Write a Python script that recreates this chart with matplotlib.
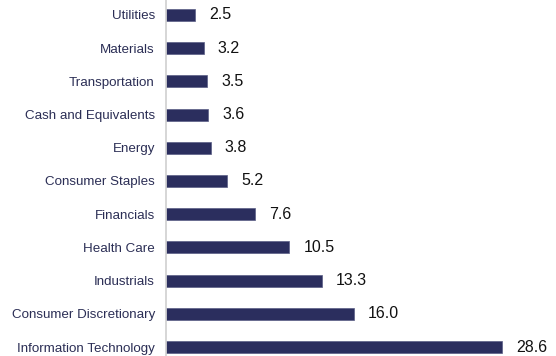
import matplotlib.pyplot as plt

plt.rcParams['font.family'] = ['Liberation Sans', 'DejaVu Sans']

# sector weights (%)
sectors = ['Utilities', 'Materials', 'Transportation', 'Cash and Equivalents', 'Energy',
           'Consumer Staples', 'Financials', 'Health Care', 'Industrials',
           'Consumer Discretionary', 'Information Technology']
weights = [2.5, 3.2, 3.5, 3.6, 3.8, 5.2, 7.6, 10.5, 13.3, 16.0, 28.6]

fig = plt.figure(figsize=(5.56, 3.56), dpi=100)
ax = fig.add_axes([166 / 556, 0, 390 / 556, 1])

ypos = list(range(len(sectors)))
ax.barh(ypos, weights, height=0.36, color='#2b2e5e', edgecolor='#5a5d85', linewidth=0.5)

for y, v in zip(ypos, weights):
    ax.annotate(f'{v:.1f}', xy=(v, y), xytext=(10, 0), textcoords='offset points',
                va='center', ha='left', fontsize=11.5, color='#111111')

ax.set_xlim(0, 390 / 11.75)
ax.set_ylim(10.27, -0.45)
ax.set_yticks(ypos)
ax.set_yticklabels(sectors, fontsize=9.6, color='#2b2e55')
ax.tick_params(axis='y', length=0, pad=8)
ax.set_xticks([])

for s in ['top', 'right', 'bottom']:
    ax.spines[s].set_visible(False)
ax.spines['left'].set_color('#d0d0d0')
ax.spines['left'].set_linewidth(1.2)

fig.savefig('out.png', dpi=100)
